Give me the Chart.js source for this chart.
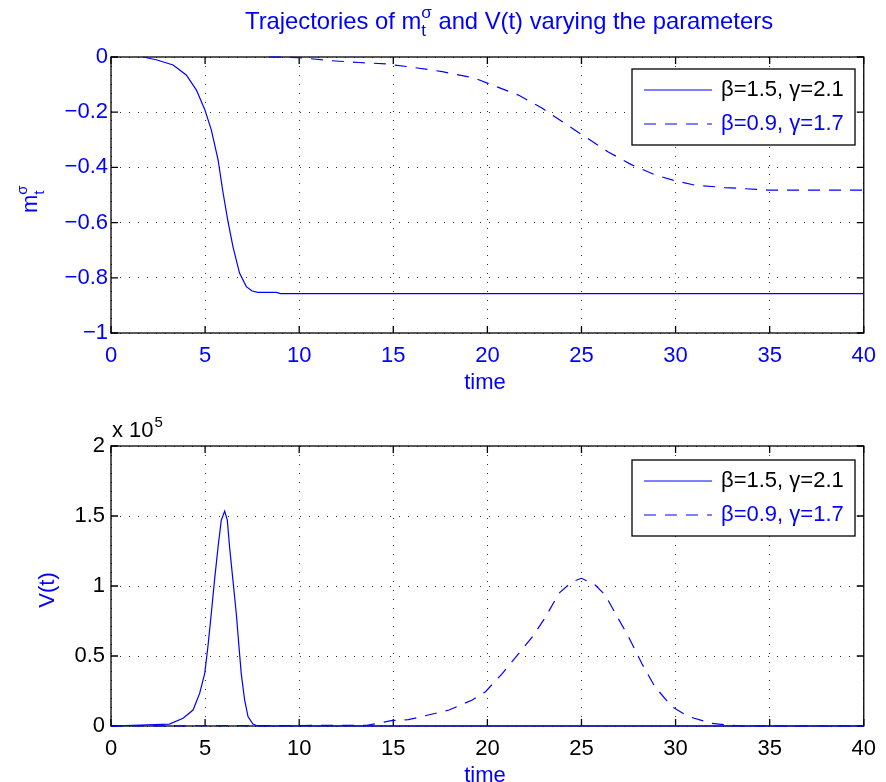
<!DOCTYPE html>
<html>
<head>
<meta charset="utf-8">
<script src="https://cdn.jsdelivr.net/npm/chart.js@4.4.0/dist/chart.umd.min.js"></script>
<style>
  html, body { margin: 0; padding: 0; background: #fff; }
  #wrap { position: relative; width: 886px; height: 782px; overflow: hidden; }
  canvas { position: absolute; left: 0; }
</style>
</head>
<body>
<div id="wrap">
  <canvas id="mChart" width="886" height="391" style="top:0"></canvas>
  <canvas id="vChart" width="886" height="391" style="top:391px"></canvas>
</div>
<script>
const BLUE = '#0000ff';
const FONT = "'Liberation Sans', Arial, Helvetica, sans-serif";

const seriesLabels = ['β=1.5, γ=2.1', 'β=0.9, γ=1.7'];
const timeTicks = [0, 5, 10, 15, 20, 25, 30, 35, 40];
const mTicks = [0, -0.2, -0.4, -0.6, -0.8, -1];
const vTicks = [0, 50000, 100000, 150000, 200000];

// m_t^sigma, beta=1.5
const mTimeA = [1.7, 2.4, 3.3, 4.0, 4.54, 4.98, 5.33, 5.69, 5.95, 6.2, 6.48, 6.83, 7.19, 7.5, 7.8, 8.8, 9.0, 40];
const mValA = [0, -0.01, -0.029, -0.065, -0.12, -0.19, -0.264, -0.373, -0.49, -0.59, -0.687, -0.783, -0.832, -0.848, -0.853, -0.853, -0.857, -0.857];
// m_t^sigma, beta=0.9
const mTimeB = [8.4, 10, 11.6, 13.2, 14.6, 16.0, 17.6, 19.3, 20.2, 21.65, 22.9, 24.1, 24.9, 26.4, 27.65, 28.9, 29.95, 31.0, 32.6, 34.9, 40];
const mValB = [0, -0.002, -0.013, -0.02, -0.025, -0.037, -0.053, -0.076, -0.1, -0.138, -0.185, -0.24, -0.276, -0.343, -0.39, -0.427, -0.448, -0.464, -0.473, -0.482, -0.482];

// V(t), beta=1.5
const vTimeA = [0, 3.1, 3.83, 4.36, 4.71, 4.98, 5.15, 5.33, 5.5, 5.69, 5.86, 6.04, 6.18, 6.3, 6.48, 6.66, 6.8, 6.92, 7.1, 7.28, 7.54, 7.8, 40];
const vValA = [0, 1400, 5500, 11400, 23300, 37600, 56700, 80500, 104000, 128000, 147000, 153500, 147000, 128000, 104000, 80000, 56700, 37600, 18600, 6700, 1400, 0, 0];
// V(t), beta=0.9
const vTimeB = [0, 13.6, 14.2, 14.9, 15.8, 16.5, 17.96, 19.2, 19.9, 20.8, 21.67, 22.4, 23.1, 23.8, 24.5, 25.0, 25.73, 26.26, 26.9, 27.5, 28.2, 28.9, 29.8, 30.7, 31.9, 32.8, 33.5, 40];
const vValB = [0, 500, 2000, 3800, 4500, 6700, 11400, 18600, 24500, 37600, 51900, 63800, 78000, 94800, 103000, 105500, 100700, 93600, 78000, 63800, 44800, 28100, 13800, 6700, 1900, 700, 0, 0];

const toPoints = (ts, vs) => ts.map((t, i) => ({ x: t, y: vs[i] }));
const minus = v => String(v).replace('-', '\u2212');

// text with a stacked superscript/subscript, e.g. m_t^sigma
function drawMath(ctx, parts, x, y, size, measureOnly) {
  let cx = x;
  parts.forEach(p => {
    if (p.t) {
      ctx.font = size + 'px ' + FONT;
      if (!measureOnly) ctx.fillText(p.t, cx, y);
      cx += ctx.measureText(p.t).width;
    } else {
      const s = Math.round(size * 0.7);
      ctx.font = s + 'px ' + FONT;
      const w = Math.max(ctx.measureText(p.sup || '').width, ctx.measureText(p.sub || '').width);
      if (!measureOnly) {
        if (p.sup) ctx.fillText(p.sup, cx, y - size * 0.45);
        if (p.sub) ctx.fillText(p.sub, cx, y + size * 0.3);
      }
      cx += w;
    }
  });
  return cx - x;
}

const framePlugin = {
  id: 'frame',
  beforeDatasetsDraw(chart) {
    const { ctx, chartArea: a, scales: { x, y } } = chart;
    ctx.save();
    ctx.strokeStyle = '#000';
    ctx.lineWidth = 1.3;
    ctx.strokeRect(a.left, a.top, a.right - a.left, a.bottom - a.top);
    const tl = 7;
    ctx.beginPath();
    x.ticks.forEach(t => {
      const px = x.getPixelForValue(t.value);
      ctx.moveTo(px, a.bottom); ctx.lineTo(px, a.bottom - tl);
      ctx.moveTo(px, a.top); ctx.lineTo(px, a.top + tl);
    });
    y.ticks.forEach(t => {
      const py = y.getPixelForValue(t.value);
      ctx.moveTo(a.left, py); ctx.lineTo(a.left + tl, py);
      ctx.moveTo(a.right, py); ctx.lineTo(a.right - tl, py);
    });
    ctx.stroke();
    ctx.restore();
  },
  afterDraw(chart, args, opts) {
    const { ctx } = chart;
    ctx.save();
    // legend box
    const left = 632, top = opts.legendTop, w = 223, h = 76;
    ctx.fillStyle = '#fff';
    ctx.fillRect(left, top, w, h);
    ctx.strokeStyle = '#000';
    ctx.lineWidth = 1.3;
    ctx.strokeRect(left, top, w, h);
    chart.data.datasets.forEach((ds, i) => {
      const ry = top + 21 + i * 34;
      ctx.strokeStyle = BLUE;
      ctx.lineWidth = 1.2;
      ctx.setLineDash(ds.borderDash || []);
      ctx.beginPath();
      ctx.moveTo(644, ry); ctx.lineTo(712, ry);
      ctx.stroke();
      ctx.setLineDash([]);
      ctx.fillStyle = i === 0 ? '#000' : BLUE;
      ctx.font = '22px ' + FONT;
      ctx.textBaseline = 'middle';
      ctx.fillText(ds.label, 721, ry);
    });
    // "time" label
    ctx.fillStyle = BLUE;
    ctx.textAlign = 'center';
    ctx.textBaseline = 'middle';
    ctx.font = '22px ' + FONT;
    ctx.fillText('time', 485, opts.timeY);
    if (opts.extra) opts.extra(ctx);
    ctx.restore();
  }
};

function makeOptions(yMin, yMax, yTicks, tickColor, yFmt, padTop, xHeight, yPad, frameOpts) {
  return {
    responsive: false,
    animation: false,
    events: [],
    layout: { padding: { top: padTop, right: 20, left: 0, bottom: 0 } },
    plugins: { legend: { display: false }, tooltip: { enabled: false }, frame: frameOpts },
    scales: {
      x: {
        type: 'linear', min: 0, max: 40,
        afterBuildTicks: axis => { axis.ticks = timeTicks.map(v => ({ value: v })); },
        afterFit: s => { s.height = xHeight; },
        grid: { color: '#333', lineWidth: 1, drawTicks: false },
        border: { display: false, dash: [1, 8] },
        ticks: { color: tickColor, font: { family: FONT, size: 22 }, padding: 10, maxRotation: 0 }
      },
      y: {
        type: 'linear', min: yMin, max: yMax,
        afterBuildTicks: axis => { axis.ticks = yTicks.map(v => ({ value: v })); },
        afterFit: s => { s.width = 111; },
        grid: { color: '#333', lineWidth: 1, drawTicks: false },
        border: { display: false, dash: [1, 8] },
        ticks: { color: tickColor, font: { family: FONT, size: 22 }, padding: yPad, callback: yFmt }
      }
    }
  };
}

const lineStyle = dashed => ({
  borderColor: BLUE, borderWidth: 1.2, pointRadius: 0, fill: false, tension: 0, clip: false,
  borderDash: dashed ? [12, 9] : []
});

// top: m_t^sigma
new Chart(document.getElementById('mChart'), {
  type: 'line',
  data: {
    datasets: [
      { label: seriesLabels[0], data: toPoints(mTimeA, mValA), ...lineStyle(false) },
      { label: seriesLabels[1], data: toPoints(mTimeB, mValB), ...lineStyle(true) }
    ]
  },
  options: makeOptions(-1, 0, mTicks, BLUE, v => minus(v), 57, 58, 3, {
    legendTop: 69,
    timeY: 383,
    extra: ctx => {
      ctx.fillStyle = BLUE;
      ctx.textAlign = 'left';
      ctx.textBaseline = 'alphabetic';
      const title = [{ t: 'Trajectories of m' }, { sup: 'σ', sub: 't' }, { t: ' and V(t) varying the parameters' }];
      const tw = drawMath(ctx, title, 0, 0, 23.8, true);
      drawMath(ctx, title, 509 - tw / 2, 29, 23.8);
      ctx.save();
      ctx.translate(37, 213);
      ctx.rotate(-Math.PI / 2);
      drawMath(ctx, [{ t: 'm' }, { sup: 'σ', sub: 't' }], 0, 0, 22);
      ctx.restore();
    }
  }),
  plugins: [framePlugin]
});

// bottom: V(t)
new Chart(document.getElementById('vChart'), {
  type: 'line',
  data: {
    datasets: [
      { label: seriesLabels[0], data: toPoints(vTimeA, vValA), ...lineStyle(false) },
      { label: seriesLabels[1], data: toPoints(vTimeB, vValB), ...lineStyle(true) }
    ]
  },
  options: makeOptions(0, 200000, vTicks, '#000', v => String(v / 100000), 55, 56, 6, {
    legendTop: 69,
    timeY: 385,
    extra: ctx => {
      ctx.fillStyle = '#000';
      ctx.textAlign = 'left';
      ctx.textBaseline = 'alphabetic';
      ctx.font = '22px ' + FONT;
      ctx.fillText('x 10', 112, 46);
      const w = ctx.measureText('x 10').width;
      ctx.font = '15px ' + FONT;
      ctx.fillText('5', 112 + w + 1, 36);
      ctx.save();
      ctx.fillStyle = BLUE;
      ctx.font = '22px ' + FONT;
      ctx.translate(48, 199);
      ctx.rotate(-Math.PI / 2);
      ctx.textAlign = 'center';
      ctx.textBaseline = 'middle';
      ctx.fillText('V(t)', 0, 0);
      ctx.restore();
    }
  }),
  plugins: [framePlugin]
});
</script>
</body>
</html>
